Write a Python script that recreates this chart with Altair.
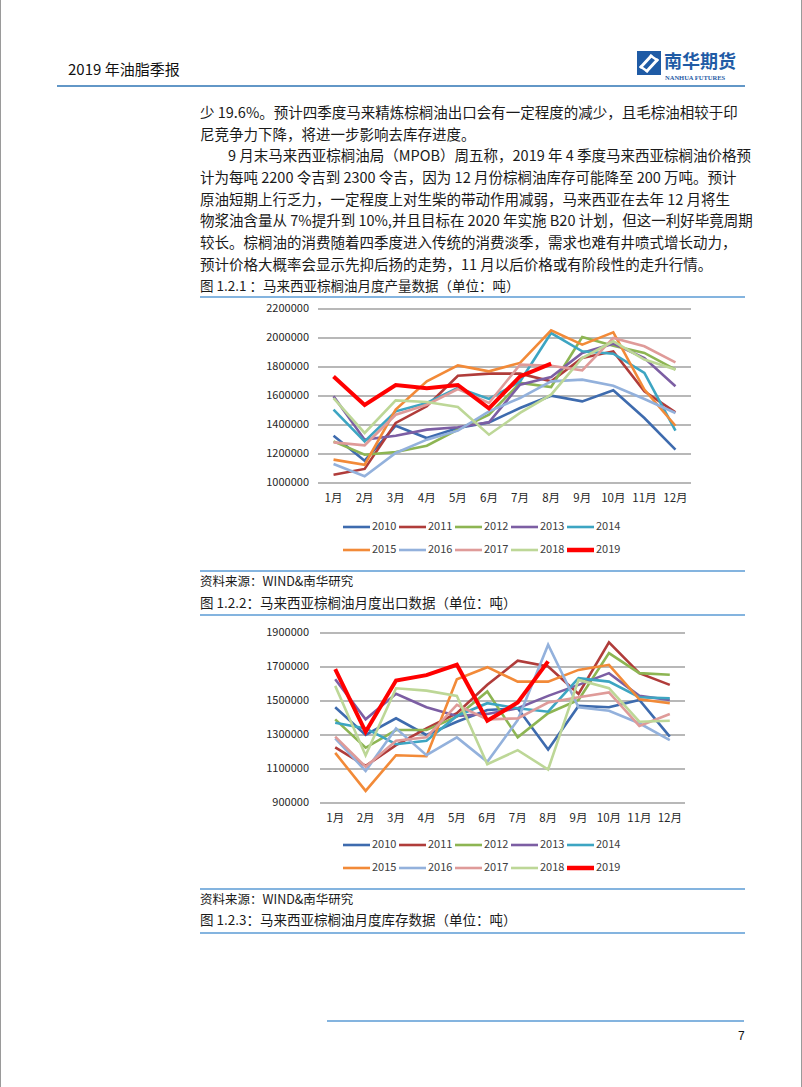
import altair as alt
import pandas as pd

FONT = "Noto Sans CJK SC"

months = ["1月", "2月", "3月", "4月", "5月", "6月", "7月", "8月", "9月", "10月", "11月", "12月"]
years = ["2010", "2011", "2012", "2013", "2014", "2015", "2016", "2017", "2018", "2019"]
colors = ["#3E6BAE", "#B03C3A", "#8DB553", "#7C5EA3", "#3DA5C2",
          "#F28A38", "#93B1DC", "#DF9B99", "#BDD797", "#FF0000"]

# 马来西亚棕榈油月度产量（吨）
prod_2010 = [1326000, 1154000, 1395000, 1310000, 1379000, 1418000, 1517000, 1602000, 1563000, 1639000, 1448000, 1230000]
prod_2011 = [1057000, 1097000, 1414000, 1529000, 1740000, 1754000, 1754000, 1701000, 1862000, 1908000, 1632000, 1487000]
prod_2012 = [1287000, 1195000, 1214000, 1257000, 1368000, 1471000, 1690000, 1662000, 2007000, 1947000, 1897000, 1782000]
prod_2013 = [1598000, 1299000, 1326000, 1368000, 1384000, 1418000, 1678000, 1731000, 1897000, 1961000, 1862000, 1667000]
prod_2014 = [1506000, 1287000, 1494000, 1552000, 1655000, 1580000, 1700000, 2034000, 1908000, 1892000, 1759000, 1361000]
prod_2015 = [1161000, 1126000, 1506000, 1701000, 1811000, 1770000, 1828000, 2053000, 1954000, 2039000, 1644000, 1395000]
prod_2016 = [1131000, 1046000, 1207000, 1299000, 1361000, 1494000, 1586000, 1701000, 1713000, 1671000, 1579000, 1483000]
prod_2017 = [1280000, 1260000, 1471000, 1540000, 1648000, 1552000, 1816000, 1809000, 1777000, 2000000, 1943000, 1832000]
prod_2018 = [1586000, 1345000, 1570000, 1559000, 1524000, 1333000, 1483000, 1609000, 1862000, 1977000, 1851000, 1782000]
prod_2019 = [1735000, 1538000, 1676000, 1653000, 1676000, 1515000, 1735000, 1823000]

# 马来西亚棕榈油月度出口（吨）
exp_2010 = [1463000, 1300000, 1398000, 1300000, 1378000, 1447000, 1457000, 1215000, 1471000, 1463000, 1506000, 1290000]
exp_2011 = [1227000, 1118000, 1240000, 1339000, 1428000, 1595000, 1737000, 1703000, 1542000, 1845000, 1664000, 1595000]
exp_2012 = [1392000, 1225000, 1329000, 1329000, 1408000, 1556000, 1286000, 1428000, 1506000, 1782000, 1664000, 1654000]
exp_2013 = [1628000, 1392000, 1542000, 1463000, 1412000, 1424000, 1457000, 1530000, 1595000, 1664000, 1530000, 1506000]
exp_2014 = [1372000, 1339000, 1246000, 1266000, 1412000, 1487000, 1457000, 1437000, 1634000, 1614000, 1522000, 1516000]
exp_2015 = [1195000, 971000, 1181000, 1175000, 1628000, 1699000, 1614000, 1614000, 1683000, 1713000, 1510000, 1487000]
exp_2016 = [1280000, 1089000, 1339000, 1181000, 1286000, 1142000, 1388000, 1831000, 1463000, 1443000, 1369000, 1270000]
exp_2017 = [1290000, 1113000, 1266000, 1286000, 1477000, 1392000, 1398000, 1491000, 1522000, 1550000, 1353000, 1424000]
exp_2018 = [1589000, 1180000, 1575000, 1561000, 1530000, 1128000, 1211000, 1097000, 1624000, 1575000, 1378000, 1384000]
exp_2019 = [1687000, 1319000, 1620000, 1652000, 1713000, 1384000, 1491000, 1733000]

prod_ticks = [1000000, 1200000, 1400000, 1600000, 1800000, 2000000, 2200000]
exp_ticks = [900000, 1100000, 1300000, 1500000, 1700000, 1900000]

body_lines = [
    "少 19.6%。预计四季度马来精炼棕榈油出口会有一定程度的减少，且毛棕油相较于印",
    "尼竞争力下降，将进一步影响去库存进度。",
    "9 月末马来西亚棕榈油局（MPOB）周五称，2019 年 4 季度马来西亚棕榈油价格预",
    "计为每吨 2200 令吉到 2300 令吉，因为 12 月份棕榈油库存可能降至 200 万吨。预计",
    "原油短期上行乏力，一定程度上对生柴的带动作用减弱，马来西亚在去年 12 月将生",
    "物浆油含量从 7%提升到 10%,并且目标在 2020 年实施 B20 计划，但这一利好毕竟周期",
    "较长。棕榈油的消费随着四季度进入传统的消费淡季，需求也难有井喷式增长动力，",
    "预计价格大概率会显示先抑后扬的走势，11 月以后价格或有阶段性的走升行情。",
]

production = [prod_2010, prod_2011, prod_2012, prod_2013, prod_2014,
              prod_2015, prod_2016, prod_2017, prod_2018, prod_2019]
exports = [exp_2010, exp_2011, exp_2012, exp_2013, exp_2014,
           exp_2015, exp_2016, exp_2017, exp_2018, exp_2019]


def long_df(series):
    rows = []
    for y, vals in zip(years, series):
        for i, v in enumerate(vals):
            rows.append({"year": y, "m": i + 1, "v": v})
    return pd.DataFrame(rows)


def txt(s, x, y, size=14, color="#1a1a1a", weight="normal", align="left", font=FONT):
    return alt.Chart(pd.DataFrame({"t": [s]})).mark_text(
        align=align, baseline="middle", fontSize=size, font=font,
        color=color, fontWeight=weight
    ).encode(x=alt.value(x), y=alt.value(y), text="t:N")


def hline(x1, x2, y, color="#5B9BD5", width=1.6):
    return alt.Chart(pd.DataFrame({"a": [0]})).mark_rule(
        color=color, strokeWidth=width
    ).encode(x=alt.value(x1), x2=alt.value(x2), y=alt.value(y))


def seg(x1, y1, x2, y2, color="white", width=3):
    return alt.Chart(pd.DataFrame({"a": [0]})).mark_rule(
        color=color, strokeWidth=width, strokeCap="square"
    ).encode(x=alt.value(x1), x2=alt.value(x2), y=alt.value(y1), y2=alt.value(y2))


def panel(series, ticks, ydom, yrng, xrng, xlab_y, ylab_x):
    df = long_df(series)
    xs = alt.Scale(domain=[0.5, 12.5], range=xrng)
    ys = alt.Scale(domain=ydom, range=yrng)
    cs = alt.Scale(domain=years, range=colors)
    tdf = pd.DataFrame({"v": ticks})
    grid = alt.Chart(tdf).mark_rule(color="#A0A0A0", strokeWidth=1.3).encode(
        y=alt.Y("v:Q", scale=ys, axis=None),
        x=alt.value(xrng[0]), x2=alt.value(xrng[1]))
    ylab = alt.Chart(tdf).mark_text(align="right", baseline="middle", fontSize=11,
                                     font=FONT, color="#262626").encode(
        y=alt.Y("v:Q", scale=ys, axis=None), x=alt.value(ylab_x),
        text=alt.Text("v:Q", format="d"))
    mdf = pd.DataFrame({"m": list(range(1, 13)), "lab": months})
    xlab = alt.Chart(mdf).mark_text(align="center", baseline="middle", fontSize=11.5,
                                     font=FONT, color="#262626").encode(
        x=alt.X("m:Q", scale=xs, axis=None), y=alt.value(xlab_y), text="lab:N")
    others = alt.Chart(df[df.year != "2019"]).mark_line(strokeWidth=2.6).encode(
        x=alt.X("m:Q", scale=xs, axis=None),
        y=alt.Y("v:Q", scale=ys, axis=None),
        color=alt.Color("year:N", scale=cs, legend=None))
    last = alt.Chart(df[df.year == "2019"]).mark_line(strokeWidth=4).encode(
        x=alt.X("m:Q", scale=xs, axis=None),
        y=alt.Y("v:Q", scale=ys, axis=None),
        color=alt.Color("year:N", scale=cs, legend=None))
    return alt.layer(grid, ylab, xlab, others, last)


def legend(x0, y0, dx=56, dy=23, seglen=27):
    df = pd.DataFrame({"year": years})
    idx = list(range(len(years)))
    df["lx"] = [x0 + (i % 5) * dx for i in idx]
    df["lx2"] = df["lx"] + seglen
    df["tx"] = df["lx2"] + 2
    df["ly"] = [y0 + (i // 5) * dy for i in idx]
    base = alt.Chart(df)
    sym = base.mark_rule().encode(
        x=alt.X("lx:Q", scale=None, axis=None), x2="lx2:Q",
        y=alt.Y("ly:Q", scale=None, axis=None),
        color=alt.Color("year:N", scale=alt.Scale(domain=years, range=colors), legend=None),
        strokeWidth=alt.condition("datum.year == '2019'", alt.value(4.5), alt.value(2.6)))
    lab = base.mark_text(align="left", baseline="middle", fontSize=11, font=FONT,
                         color="#404040").encode(
        x=alt.X("tx:Q", scale=None, axis=None),
        y=alt.Y("ly:Q", scale=None, axis=None), text="year:N")
    return alt.layer(sym, lab)


layers = []
# page border
layers.append(alt.Chart(pd.DataFrame({"a": [0]})).mark_rect(
    fill="white", stroke="#9a9a9a", strokeWidth=1).encode(
    x=alt.value(0.5), x2=alt.value(801.5), y=alt.value(-2), y2=alt.value(1090)))

# header
layers.append(txt("2019 年油脂季报", 68, 70, size=15, color="#111111"))
layers.append(hline(57, 745, 86, color="#2E74B5", width=1.6))
layers.append(alt.Chart(pd.DataFrame({"a": [0]})).mark_rect(color="#1F5BA5").encode(
    x=alt.value(637), x2=alt.value(661), y=alt.value(51), y2=alt.value(75)))
layers.append(seg(641, 67, 651, 56))
layers.append(seg(647, 71, 657, 60))
layers.append(seg(641, 67, 647, 71, width=2.5))
layers.append(seg(651, 56, 657, 60, width=2.5))
layers.append(txt("南华期货", 664, 63, size=18, color="#1F5BA5", weight="bold"))
layers.append(txt("NANHUA FUTURES", 665, 78, size=6.5, color="#1F5BA5", weight="bold",
                  font="Liberation Sans Narrow"))

# body text
line_y = [114, 136, 157, 179, 201, 222, 244, 266]
for i, (s, y) in enumerate(zip(body_lines, line_y)):
    layers.append(txt(s, 228 if i == 2 else 200, y, size=14.5))

# figure 1
layers.append(txt("图 1.2.1 ：马来西亚棕榈油月度产量数据（单位：吨）", 200, 287, size=13.5))
layers.append(hline(200, 745, 297))
layers.append(panel(production, prod_ticks, [1000000, 2200000], [483, 309], [318, 691], 499, 309))
layers.append(legend(343, 527))
layers.append(hline(200, 745, 571))
layers.append(txt("资料来源：WIND&南华研究", 200, 582, size=12.5))

# figure 2
layers.append(txt("图 1.2.2：马来西亚棕榈油月度出口数据（单位：吨）", 200, 604, size=13.5))
layers.append(hline(200, 745, 615))
layers.append(panel(exports, exp_ticks, [900000, 1900000], [803, 633], [320, 685], 819, 309))
layers.append(legend(343, 845))
layers.append(hline(200, 745, 889))
layers.append(txt("资料来源：WIND&南华研究", 200, 900, size=12.5))
layers.append(txt("图 1.2.3：马来西亚棕榈油月度库存数据（单位：吨）", 200, 921, size=13.5))
layers.append(hline(200, 745, 933))

# footer
layers.append(hline(327, 744, 1021, color="#5B9BD5", width=1.6))
layers.append(txt("7", 738, 1036, size=12, color="#111111", font="Liberation Sans"))

chart = alt.layer(*layers).resolve_scale(
    x="independent", y="independent", color="independent"
).properties(
    width=802, height=1087, autosize=alt.AutoSizeParams(type="none"), padding=0
).configure_view(stroke=None)

chart.save("out.html", embed_options={"renderer": "svg", "actions": False})
